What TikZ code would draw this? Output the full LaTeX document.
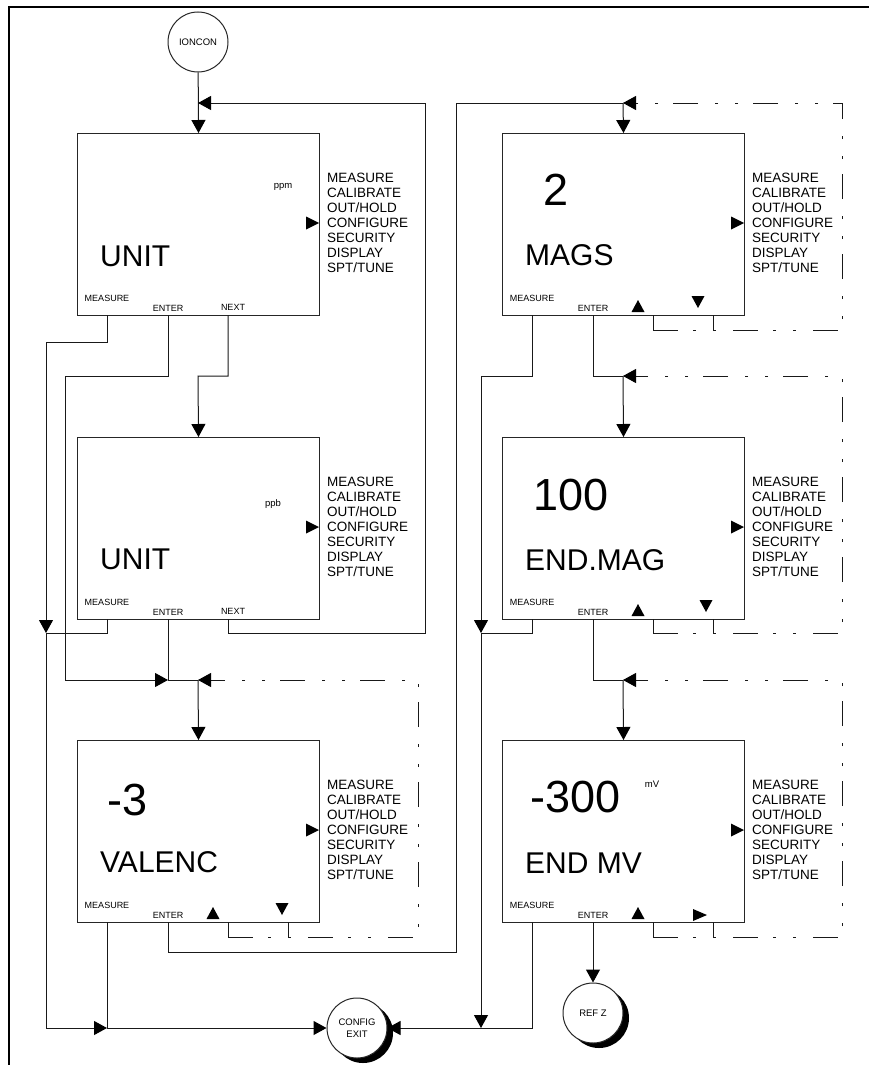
\documentclass[tikz,border=0pt]{standalone}
\usepackage{fontspec}
\setmainfont{Liberation Sans}
\usetikzlibrary{arrows.meta,shadows}

% one display screen: name, left, top
\newcommand{\screen}[3]{%
  \node[screen] (#1) at (#2,#3) {};
  \node[menu] at (#2+250,#3+90) {MEASURE\\CALIBRATE\\OUT/HOLD\\CONFIGURE\\SECURITY\\DISPLAY\\SPT/TUNE};
  \fill[black] (#2+242,#3+90) -- ++(-13,-6.5) -- ++(0,13) -- cycle;
  \node[keylabel] at (#2+30,#3+165) {MEASURE};
  \node[keylabel] at (#2+91,#3+175) {ENTER};
  \coordinate (#1-meas) at (#2+30,#3+182);
  \coordinate (#1-enter) at (#2+91,#3+182);
  \coordinate (#1-keyc) at (#2+151,#3+182);
  \coordinate (#1-keyd) at (#2+211,#3+182);
}
\newcommand{\upkey}[2]{\fill[black] (#1,#2) -- ++(-6.5,12) -- ++(13,0) -- cycle;}
\newcommand{\downkey}[2]{\fill[black] (#1,#2) -- ++(-6.5,-12) -- ++(13,0) -- cycle;}
\newcommand{\rightkey}[2]{\fill[black] (#1,#2) -- ++(-14,-6) -- ++(0,12) -- cycle;}

\tikzset{
  screen/.style={draw=black!85, line width=1pt, minimum width=242pt, minimum height=182pt, inner sep=0pt, anchor=north west},
  wire/.style={draw=black!90, line width=1pt},
  flow/.style={wire, -{Triangle[length=13pt,width=14pt,color=black]}},
  loopback/.style={flow, dash pattern=on 25pt off 15pt on 3pt off 17pt on 3pt off 17pt},
  menu/.style={anchor=west, align=left, inner sep=0pt, font=\fontsize{13.5}{15}\selectfont},
  keylabel/.style={inner sep=0pt, font=\fontsize{9}{9}\selectfont},
  unitlabel/.style={inner sep=0pt, font=\fontsize{9.5}{9.5}\selectfont},
  bigword/.style={anchor=west, inner sep=0pt, font=\fontsize{30}{30}\selectfont},
  bignum/.style={anchor=west, inner sep=0pt, font=\fontsize{45}{45}\selectfont},
  terminal/.style={circle, draw=black!85, line width=1pt, fill=white, minimum size=60pt, inner sep=0pt, align=center, font=\fontsize{9.5}{12}\selectfont},
  shadowed/.style={drop shadow={shadow xshift=6pt, shadow yshift=-5pt, fill=black, opacity=1}},
}

\begin{document}
\begin{tikzpicture}[x=1pt, y=-1pt]
  \useasboundingbox (0,0) rectangle (868,1065);

  % frame
  \draw[line width=1.3pt] (9,1075) -- (9,7) -- (880,7);

  % screens
  \screen{unitA}{77}{133}
  \node[keylabel] at (233,307) {NEXT};
  \node[unitlabel] at (283,187) {ppm};
  \node[bigword] at (100,256) {UNIT};

  \screen{unitB}{77}{437}
  \node[keylabel] at (233,611) {NEXT};
  \node[unitlabel] at (273,504) {ppb};
  \node[bigword] at (100,559) {UNIT};

  \screen{valenc}{77}{740}
  \node[bignum] at (107,800) {-3};
  \node[bigword] at (100,862) {VALENC};
  \upkey{213}{907}
  \downkey{282}{915}

  \screen{mags}{502}{133}
  \node[bignum] at (543,190) {2};
  \node[bigword] at (525,255) {MAGS};
  \upkey{638}{300}
  \downkey{698}{308}

  \screen{endmag}{502}{437}
  \node[bignum] at (533,495) {100};
  \node[bigword] at (525,560) {END.MAG};
  \upkey{638}{604}
  \downkey{706}{612}

  \screen{endmv}{502}{740}
  \node[bignum] at (530,797) {-300};
  \node[unitlabel] at (652,784) {mV};
  \node[bigword] at (525,863) {END MV};
  \upkey{638}{907}
  \rightkey{707}{915}

  % start and end points
  \node[terminal] (ioncon) at (198,42) {IONCON};
  \node[terminal, shadowed] (exit) at (357,1028) {CONFIG\\EXIT};
  \node[terminal, shadowed] (refz) at (593,1013) {REF Z};

  % junctions
  \coordinate (joinA) at (198,103);
  \coordinate (joinE) at (168,680);
  \coordinate (joinV) at (198,680);
  \coordinate (joinM) at (46,633);
  \coordinate (joinX) at (107,1028);
  \coordinate (joinG) at (623,103);
  \coordinate (joinH) at (623,376);
  \coordinate (joinK) at (623,680);
  \coordinate (joinN) at (481,633);
  \coordinate (joinY) at (481,1028);

  % unit screens
  \draw[flow] (ioncon) -- (unitA.north);
  \draw[flow] (unitB-keyc) |- (425,633) |- (joinA);
  \draw[flow] (unitA-meas) |- (46,342) -- (joinM);
  \draw[flow] (unitA-enter) |- (65,376) |- (joinE);
  \draw[flow] (unitA-keyc) |- (198,376) -- (unitB.north);
  \draw[wire] (unitB-meas) |- (joinM);
  \draw[wire] (unitB-enter) -- (joinE) -- (joinV);
  \draw[flow] (joinM) |- (joinX);
  \draw[flow] (joinV) -- (valenc.north);

  % valence
  \draw[wire] (valenc-keyc) -- ++(0,15) coordinate (valenc-ret);
  \draw[wire] (valenc-keyd) -- ++(0,15);
  \draw[loopback] (valenc-ret) -| (418,680) -- (joinV);
  \draw[wire] (valenc-meas) -- (joinX);
  \draw[flow] (joinX) -- (exit);
  \draw[wire] (valenc-enter) |- (456,952) |- (joinG);
  \draw[flow] (joinG) -- (mags.north);

  % mags
  \draw[wire] (mags-keyc) -- ++(0,15) coordinate (mags-ret);
  \draw[wire] (mags-keyd) -- ++(0,15);
  \draw[loopback] (mags-ret) -| (842,103) -- (joinG);
  \draw[flow] (mags-meas) |- (481,376) -- (joinN);
  \draw[wire] (mags-enter) |- (joinH);
  \draw[flow] (joinH) -- (endmag.north);

  % end mag
  \draw[wire] (endmag-keyc) -- ++(0,14) coordinate (endmag-ret);
  \draw[wire] (endmag-keyd) -- ++(0,14);
  \draw[loopback] (endmag-ret) -| (842,376) -- (joinH);
  \draw[wire] (endmag-meas) |- (joinN);
  \draw[flow] (joinN) -- (joinY);
  \draw[wire] (endmag-enter) |- (joinK);
  \draw[flow] (joinK) -- (endmv.north);

  % end mv
  \draw[wire] (endmv-keyc) -- ++(0,15) coordinate (endmv-ret);
  \draw[wire] (endmv-keyd) -- ++(0,15);
  \draw[loopback] (endmv-ret) -| (842,680) -- (joinK);
  \draw[flow] (endmv-enter) -- (refz);
  \draw[wire] (endmv-meas) |- (joinY);
  \draw[flow] (joinY) -- (exit);
\end{tikzpicture}
\end{document}
